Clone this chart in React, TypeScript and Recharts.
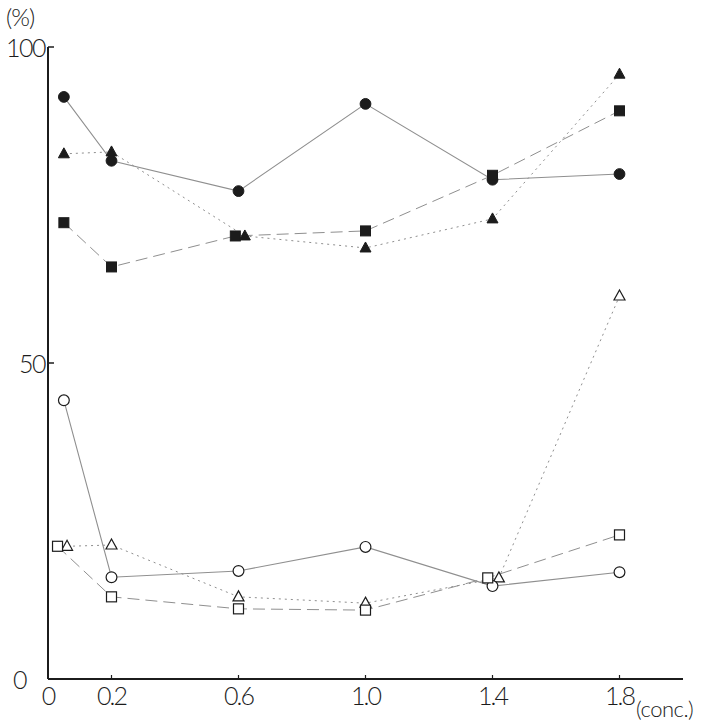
import { Line, LineChart, XAxis, YAxis } from "recharts";

// x positions (conc.) and y values (%)
const filledCircleX = [0.05, 0.2, 0.6, 1.0, 1.4, 1.8];
const filledCircleY = [92.1, 82.0, 77.2, 91.0, 79.0, 79.9];
const filledTriangleX = [0.05, 0.2, 0.62, 1.0, 1.4, 1.8];
const filledTriangleY = [83.1, 83.4, 70.1, 68.2, 72.8, 95.7];
const filledSquareX = [0.05, 0.2, 0.59, 1.0, 1.4, 1.8];
const filledSquareY = [72.2, 65.2, 70.1, 70.9, 79.7, 89.9];
const openCircleX = [0.05, 0.2, 0.6, 1.0, 1.4, 1.8];
const openCircleY = [44.1, 16.1, 17.1, 20.9, 14.7, 16.9];
const openTriangleX = [0.06, 0.2, 0.6, 1.0, 1.42, 1.8];
const openTriangleY = [21.0, 21.2, 13.0, 12.0, 16.0, 60.6];
const openSquareX = [0.03, 0.2, 0.6, 1.0, 1.385, 1.8];
const openSquareY = [21.0, 13.0, 11.1, 10.9, 16.0, 22.8];

const xTicks = [0, 0.2, 0.6, 1.0, 1.4, 1.8];
const xTickLabels = ["0", "0.2", "0.6", "1.0", "1.4", "1.8"];
const yTicks = [0, 50, 100];

const zip = (xs: number[], ys: number[]) => xs.map((x, i) => ({ x, y: ys[i] }));

const INK = "#1c1c1c";
const LINE = "#8f8f8f";
const FONT = "Lato, 'Noto Sans', sans-serif";

type Kind = "circle" | "square" | "triangle";

const marker = (kind: Kind, filled: boolean) => (props: any) => {
  const { cx, cy, index } = props;
  if (cx == null || cy == null) return <g key={index} />;
  const fill = filled ? INK : "#fff";
  const common = { fill, stroke: INK, strokeWidth: filled ? 1 : 1.2 };
  if (kind === "circle")
    return <circle key={index} cx={cx} cy={cy} r={5.4} {...common} />;
  if (kind === "square")
    return <rect key={index} x={cx - 5} y={cy - 5} width={10} height={10} {...common} />;
  return (
    <polygon
      key={index}
      points={`${cx},${cy - 6} ${cx + 5.5},${cy + 4} ${cx - 5.5},${cy + 4}`}
      {...common}
    />
  );
};

const XTick = (props: any) => {
  const { x, y, payload } = props;
  const i = xTicks.indexOf(payload.value);
  return (
    <g>
      {payload.value !== 0 && (
        <line x1={x} x2={x} y1={y} y2={y - 4} stroke={INK} strokeWidth={1.2} />
      )}
      <text
        x={x}
        y={y + 26}
        textAnchor="middle"
        fontSize={25}
        fontFamily={FONT}
        fontWeight={300}
        fill={INK}
        letterSpacing={-2}
      >
        {xTickLabels[i]}
      </text>
    </g>
  );
};

const YTick = (props: any) => {
  const { x, y, payload } = props;
  return (
    <g>
      {payload.value !== 0 && (
        <line x1={x} x2={x + 6} y1={y} y2={y} stroke={INK} strokeWidth={1.5} />
      )}
      <text
        x={payload.value === 0 ? x - 22 : x - 3}
        y={y + 10}
        textAnchor="end"
        fontSize={25}
        fontFamily={FONT}
        fontWeight={300}
        fill={INK}
        letterSpacing={-1.5}
      >
        {payload.value}
      </text>
    </g>
  );
};

export default function App() {
  return (
    <div
      style={{
        position: "absolute",
        left: 0,
        top: 0,
        width: 720,
        height: 726,
        background: "#fff",
      }}
    >
      <LineChart
        width={720}
        height={726}
        margin={{ top: 47, right: 37, left: 0, bottom: 0 }}
      >
        <XAxis
          type="number"
          dataKey="x"
          domain={[0, 2]}
          ticks={xTicks}
          tick={<XTick />}
          tickLine={false}
          tickSize={0}
          tickMargin={0}
          height={47}
          axisLine={{ stroke: INK, strokeWidth: 2 }}
          allowDuplicatedCategory={false}
        />
        <YAxis
          type="number"
          dataKey="y"
          domain={[0, 100]}
          ticks={yTicks}
          tick={<YTick />}
          tickLine={false}
          tickSize={0}
          tickMargin={0}
          width={48}
          axisLine={{ stroke: INK, strokeWidth: 2 }}
        />
        <Line
          data={zip(filledTriangleX, filledTriangleY)}
          dataKey="y"
          stroke={LINE}
          strokeWidth={1}
          strokeDasharray="2 4"
          dot={marker("triangle", true)}
          activeDot={false}
          isAnimationActive={false}
        />
        <Line
          data={zip(filledCircleX, filledCircleY)}
          dataKey="y"
          stroke={LINE}
          strokeWidth={1.1}
          dot={marker("circle", true)}
          activeDot={false}
          isAnimationActive={false}
        />
        <Line
          data={zip(filledSquareX, filledSquareY)}
          dataKey="y"
          stroke={LINE}
          strokeWidth={1}
          strokeDasharray="12 6"
          dot={marker("square", true)}
          activeDot={false}
          isAnimationActive={false}
        />
        <Line
          data={zip(openTriangleX, openTriangleY)}
          dataKey="y"
          stroke={LINE}
          strokeWidth={1}
          strokeDasharray="2 4"
          dot={marker("triangle", false)}
          activeDot={false}
          isAnimationActive={false}
        />
        <Line
          data={zip(openCircleX, openCircleY)}
          dataKey="y"
          stroke={LINE}
          strokeWidth={1.1}
          dot={marker("circle", false)}
          activeDot={false}
          isAnimationActive={false}
        />
        <Line
          data={zip(openSquareX, openSquareY)}
          dataKey="y"
          stroke={LINE}
          strokeWidth={1}
          strokeDasharray="12 6"
          dot={marker("square", false)}
          activeDot={false}
          isAnimationActive={false}
        />
      </LineChart>
      <div
        style={{
          position: "absolute",
          left: 6,
          top: 3,
          fontFamily: FONT,
          fontWeight: 300,
          fontSize: 24,
          lineHeight: "28px",
          color: INK,
          letterSpacing: -1,
        }}
      >
        (%)
      </div>
      <div
        style={{
          position: "absolute",
          left: 636,
          top: 696,
          fontFamily: FONT,
          fontWeight: 300,
          fontSize: 22,
          lineHeight: "26px",
          color: INK,
          letterSpacing: -0.5,
        }}
      >
        (conc.)
      </div>
    </div>
  );
}
